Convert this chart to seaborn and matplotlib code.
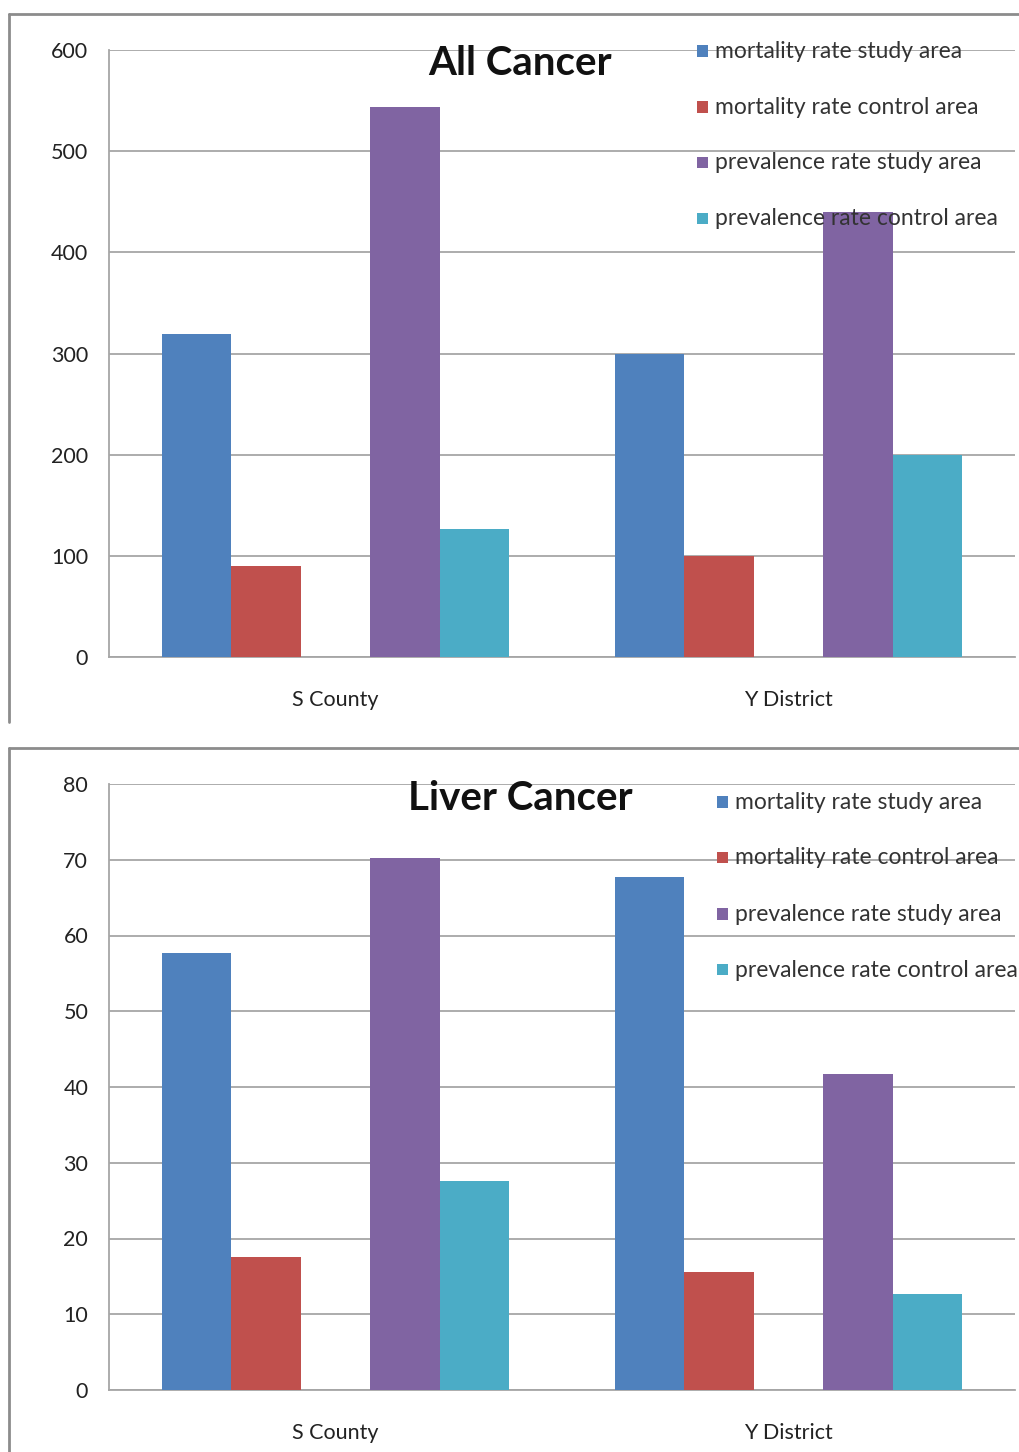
import matplotlib
matplotlib.use("Agg")
import numpy as np
import pandas as pd
import matplotlib.pyplot as plt
import seaborn as sns
from matplotlib.patches import Rectangle
from matplotlib.lines import Line2D

# ---- data -------------------------------------------------------------
regions = ["S County", "Y District"]
series = [
    "mortality rate study area",
    "mortality rate control area",
    "prevalence rate study area",
    "prevalence rate control area",
]
colors = ["#4F81BD", "#C0504D", "#8064A2", "#4BACC6"]

# All cancer (per 100,000)
all_mortality_study = [319, 300]
all_mortality_control = [90, 100]
all_prevalence_study = [544, 440]
all_prevalence_control = [127, 200]

# Liver cancer (per 100,000)
liver_mortality_study = [57.7, 67.7]
liver_mortality_control = [17.5, 15.6]
liver_prevalence_study = [70.2, 41.7]
liver_prevalence_control = [27.6, 12.7]

all_ticks = [0, 100, 200, 300, 400, 500, 600]
liver_ticks = [0, 10, 20, 30, 40, 50, 60, 70, 80]

SPACER = "_gap_"  # empty slot between mortality and prevalence bars
hue_order = series[:2] + [SPACER] + series[2:]
palette = dict(zip(series, colors))
palette[SPACER] = "#FFFFFF"


def long_table(values):
    rows = []
    for name, vals in zip(series, values):
        for reg, v in zip(regions, vals):
            rows.append({"region": reg, "series": name, "rate": v})
    return pd.DataFrame(rows)


all_df = long_table([all_mortality_study, all_mortality_control,
                     all_prevalence_study, all_prevalence_control])
liver_df = long_table([liver_mortality_study, liver_mortality_control,
                       liver_prevalence_study, liver_prevalence_control])

# ---- style ------------------------------------------------------------
sns.set_style("white")
plt.rcParams["font.family"] = ["Lato", "DejaVu Sans"]

W, H = 1019, 1452
fig = plt.figure(figsize=(W / 100, H / 100), dpi=100)

GRID = "#A6A6A6"
TXT = "#222222"


def px_axes(left, top, right, bottom):
    return fig.add_axes([left / W, 1 - bottom / H, (right - left) / W, (bottom - top) / H])


def panel(ax, df, ticks, title, leg_x, title_y, leg_rows):
    sns.barplot(data=df, x="region", y="rate", hue="series", hue_order=hue_order,
                order=regions, palette=palette, saturation=1, errorbar=None,
                width=0.766, dodge=True, linewidth=0, legend=False, ax=ax, zorder=3)
    ax.set_xlim(-0.5, 1.5)
    ax.set_ylim(ticks[0], ticks[-1])
    ax.set_yticks(ticks)
    ax.yaxis.grid(True, color=GRID, linewidth=1.3, zorder=0)
    ax.set_axisbelow(True)
    for s in ["top", "right"]:
        ax.spines[s].set_visible(False)
    for s in ["left", "bottom"]:
        ax.spines[s].set_color(GRID)
        ax.spines[s].set_linewidth(1.3)
    ax.tick_params(axis="y", length=5, width=1.1, color=GRID, pad=10,
                   labelsize=15.5, labelcolor=TXT)
    ax.set_xticks([0, 1])
    ax.set_xticklabels(regions)
    ax.set_xticks([-0.5, 0.5, 1.5], minor=True)
    ax.tick_params(axis="x", which="major", length=0, pad=24, labelsize=15.5,
                   labelcolor=TXT)
    ax.tick_params(axis="x", which="minor", length=6, width=1.1, color=GRID)
    ax.set_xlabel("")
    ax.set_ylabel("")
    ax.text(0.4536, title_y, title, transform=ax.transAxes, ha="center",
            va="center", fontsize=29, fontweight="bold", color="#111111", zorder=5)
    # legend entries sit on top of the plotting area
    for name, col, yy in zip(series, colors, leg_rows):
        ax.add_patch(Rectangle((leg_x, yy - 0.009), 0.0125, 0.019,
                               transform=ax.transAxes, facecolor=col,
                               edgecolor="none", zorder=5, clip_on=False))
        ax.text(leg_x + 0.02, yy, name, transform=ax.transAxes, ha="left",
                va="center", fontsize=16.5, color="#333333", zorder=5, clip_on=False)


ax1 = px_axes(109, 50, 1015, 657)
panel(ax1, all_df, all_ticks, "All Cancer", 0.649, 0.978,
      [0.998, 0.906, 0.814, 0.722])

ax2 = px_axes(109, 784, 1015, 1390)
panel(ax2, liver_df, liver_ticks, "Liver Cancer", 0.671, 0.976,
      [0.970, 0.878, 0.785, 0.693])

# chart-area frames (left and top edges)
FRAME = "#8C8C8C"
for top, bottom in [(14, 722), (748, 1452)]:
    fig.add_artist(Line2D([9 / W, 1.0], [1 - top / H, 1 - top / H],
                          transform=fig.transFigure, color=FRAME, linewidth=2))
    fig.add_artist(Line2D([9 / W, 9 / W], [1 - top / H, 1 - bottom / H],
                          transform=fig.transFigure, color=FRAME, linewidth=2))

fig.savefig("out.png", dpi=100)
